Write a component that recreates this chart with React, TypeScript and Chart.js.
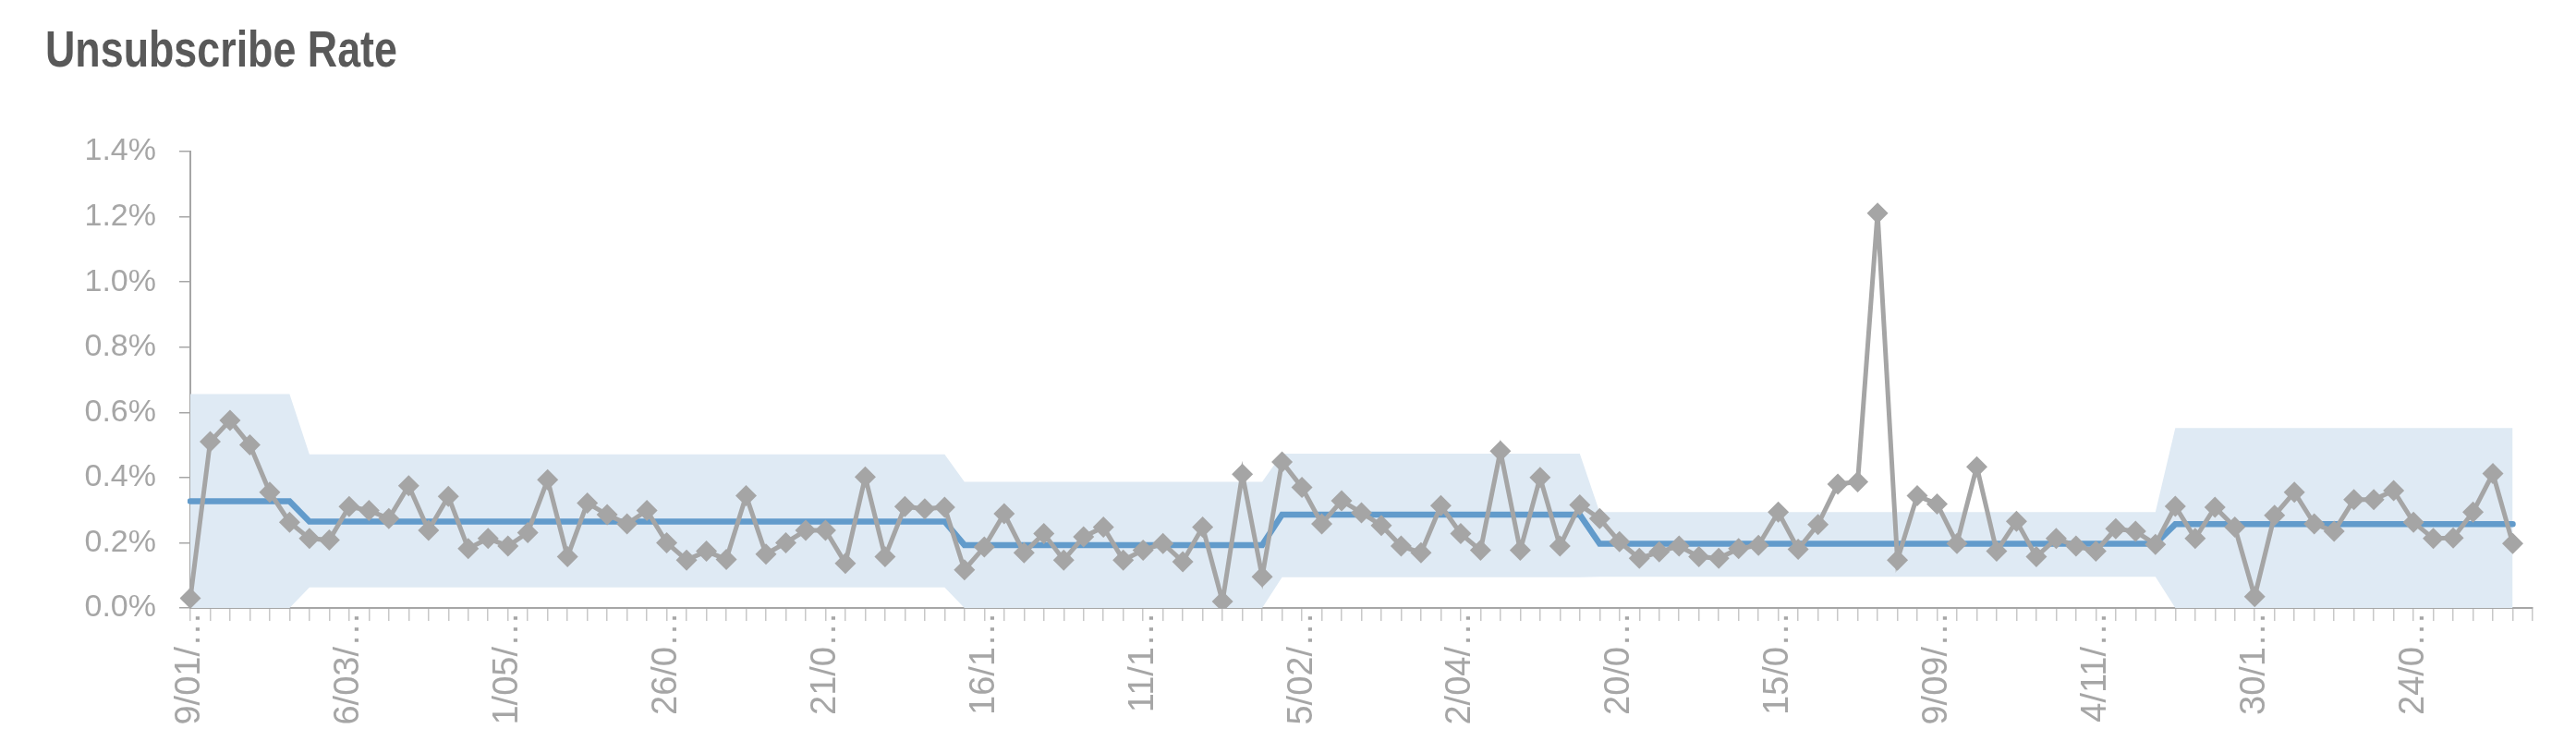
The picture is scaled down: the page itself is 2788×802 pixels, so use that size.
import React, { useEffect, useRef } from "react";
import { Chart, registerables } from "chart.js";

Chart.register(...registerables);

const TITLE = "Unsubscribe Rate";
const FONT = '"Liberation Sans", Arial, sans-serif';

// visible (truncated) axis labels, one every 8 weekly categories
const tickLabels = [
  "9/01/…", "6/03/…", "1/05/…", "26/0…", "21/0…", "16/1…", "11/1…", "5/02/…",
  "2/04/…", "20/0…", "15/0…", "9/09/…", "4/11/…", "30/1…", "24/0…",
];
const LABEL_EVERY = 8;
const CATEGORY_COUNT = 119;

// unsubscribe rate, in %
const unsubscribeRate = [
  0.03, 0.51, 0.575, 0.5, 0.355, 0.263, 0.213, 0.208, 0.311, 0.299,
  0.274, 0.375, 0.238, 0.342, 0.182, 0.213, 0.19, 0.231, 0.393, 0.157,
  0.322, 0.286, 0.258, 0.299, 0.2, 0.147, 0.174, 0.149, 0.344, 0.165,
  0.2, 0.238, 0.238, 0.137, 0.402, 0.157, 0.311, 0.304, 0.309, 0.117,
  0.187, 0.289, 0.169, 0.228, 0.147, 0.218, 0.248, 0.147, 0.177, 0.198,
  0.142, 0.248, 0.02, 0.41, 0.096, 0.448, 0.37, 0.258, 0.329, 0.292,
  0.253, 0.19, 0.169, 0.314, 0.228, 0.177, 0.481, 0.177, 0.4, 0.19,
  0.316, 0.274, 0.203, 0.152, 0.172, 0.19, 0.157, 0.152, 0.182, 0.192,
  0.294, 0.18, 0.256, 0.38, 0.387, 1.211, 0.147, 0.344, 0.319, 0.198,
  0.433, 0.174, 0.266, 0.157, 0.213, 0.19, 0.174, 0.243, 0.235, 0.195,
  0.312, 0.213, 0.309, 0.248, 0.035, 0.284, 0.355, 0.258, 0.235, 0.332,
  0.332, 0.36, 0.263, 0.213, 0.215, 0.294, 0.412, 0.198,
];

// control-chart phases: first category index, centre line, upper and lower limits (%)
const segmentStarts = [0, 6, 39, 55, 71, 100];
const segmentMean = [0.327, 0.265, 0.193, 0.286, 0.197, 0.257];
const segmentUCL = [0.656, 0.471, 0.387, 0.473, 0.294, 0.552];
const segmentLCL = [0, 0.063, 0, 0.094, 0.096, 0];

const Y_MIN = 0;
const Y_MAX = 1.4;
const Y_STEP = 0.2;

function segmentOf(i: number): number {
  let s = 0;
  for (let k = 0; k < segmentStarts.length; k++) if (segmentStarts[k] <= i) s = k;
  return s;
}

const categories: string[] = Array.from({ length: CATEGORY_COUNT }, (_, i) =>
  i % LABEL_EVERY === 0 && tickLabels[i / LABEL_EVERY] ? tickLabels[i / LABEL_EVERY] : ""
);
const meanLine = unsubscribeRate.map((_, i) => segmentMean[segmentOf(i)]);
const uclLine = unsubscribeRate.map((_, i) => segmentUCL[segmentOf(i)]);
const lclLine = unsubscribeRate.map((_, i) => segmentLCL[segmentOf(i)]);

const titlePlugin = {
  id: "sheetTitle",
  afterDraw(chart: any) {
    const ctx = chart.ctx;
    ctx.save();
    ctx.font = `bold 56px ${FONT}`;
    ctx.fillStyle = "#595959";
    ctx.textBaseline = "alphabetic";
    ctx.textAlign = "left";
    ctx.translate(49, 72);
    ctx.scale(0.8, 1);
    ctx.fillText(TITLE, 0, 0);
    ctx.restore();
  },
};

export default function App() {
  const ref = useRef<HTMLCanvasElement | null>(null);

  useEffect(() => {
    document.body.style.margin = "0";
    const canvas = ref.current;
    if (!canvas) return;
    const chart = new Chart(canvas, {
      type: "line",
      data: {
        labels: categories,
        datasets: [
          {
            label: "Unsubscribe Rate",
            data: unsubscribeRate,
            borderColor: "#a5a5a5",
            backgroundColor: "#a5a5a5",
            borderWidth: 5,
            pointStyle: "rectRot",
            pointRadius: 11.5,
            pointBorderWidth: 0,
            pointBackgroundColor: "#a5a5a5",
            tension: 0,
            fill: false,
          },
          {
            label: "Mean",
            data: meanLine,
            borderColor: "#629bcb",
            borderWidth: 6.5,
            pointRadius: 0,
            tension: 0,
            fill: false,
            borderCapStyle: "round",
          },
          {
            label: "UCL",
            data: uclLine,
            borderWidth: 0,
            borderColor: "rgba(0,0,0,0)",
            backgroundColor: "#dfeaf4",
            pointRadius: 0,
            tension: 0,
            fill: "+1",
          },
          {
            label: "LCL",
            data: lclLine,
            borderWidth: 0,
            borderColor: "rgba(0,0,0,0)",
            pointRadius: 0,
            tension: 0,
            fill: false,
          },
        ],
      },
      options: {
        responsive: false,
        animation: false,
        devicePixelRatio: 1,
        layout: { padding: { top: 164, right: 47, bottom: 0, left: 0 } },
        plugins: {
          legend: { display: false },
          tooltip: { enabled: false },
          title: { display: false },
        },
        scales: {
          x: {
            type: "category",
            offset: false,
            afterFit(scale: any) {
              scale.height = 144;
            },
            grid: {
              drawOnChartArea: false,
              drawTicks: true,
              tickLength: 14,
              color: "#c8c8c8",
              lineWidth: 1.5,
            },
            border: { display: true, color: "#a6a6a6", width: 2 },
            ticks: {
              autoSkip: false,
              maxRotation: 90,
              minRotation: 90,
              padding: -10,
              color: "#a6a6a6",
              font: { family: FONT, size: 38 },
            },
          },
          y: {
            min: Y_MIN,
            max: Y_MAX,
            afterFit(scale: any) {
              scale.width = 206;
            },
            grid: {
              drawOnChartArea: false,
              drawTicks: true,
              tickLength: 12,
              color: "#a6a6a6",
              lineWidth: 1.5,
            },
            border: { display: true, color: "#a6a6a6", width: 2 },
            ticks: {
              stepSize: Y_STEP,
              padding: 25,
              color: "#a6a6a6",
              font: { family: FONT, size: 34 },
              callback: (v: any) => Number(v).toFixed(1) + "%",
            },
          },
        },
      },
      plugins: [titlePlugin],
    });
    return () => chart.destroy();
  }, []);

  return (
    <canvas
      ref={ref}
      width={2788}
      height={802}
      style={{ display: "block", width: "2788px", height: "802px" }}
    />
  );
}
